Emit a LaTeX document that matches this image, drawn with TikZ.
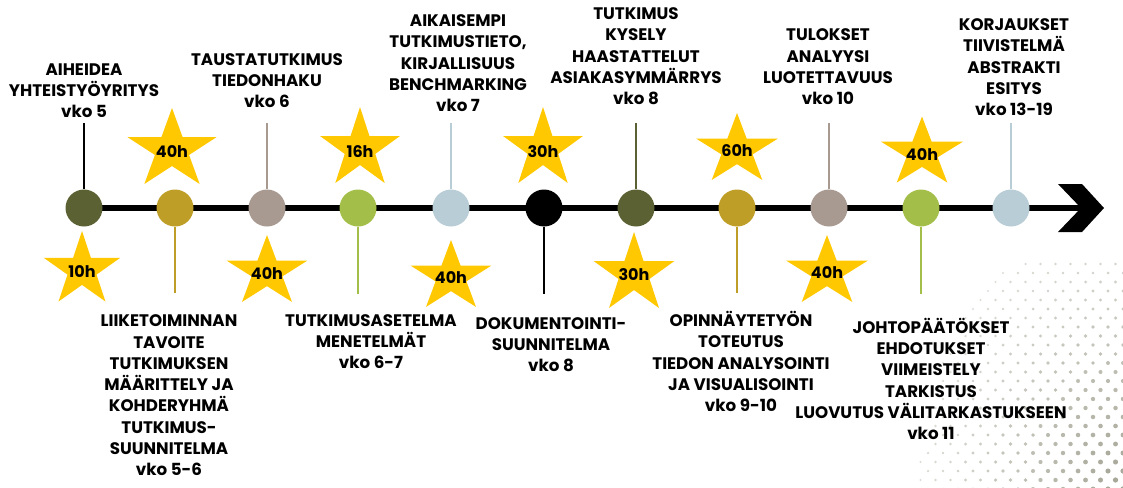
\documentclass[tikz,border=0pt]{standalone}
\usepackage{fontspec}
\setmainfont{Poppins}
\definecolor{cOlive}{RGB}{92,97,52}
\definecolor{cGold}{RGB}{190,158,38}
\definecolor{cTaupe}{RGB}{168,153,145}
\definecolor{cLime}{RGB}{164,190,74}
\definecolor{cBlue}{RGB}{184,205,214}
\definecolor{cStar}{RGB}{255,200,0}
\definecolor{cDot}{RGB}{165,165,150}
\tikzset{
  dotnode/.style={circle, minimum size=37pt, inner sep=0pt, draw=none},
  stem/.style={line width=2pt},
  lbl/.style={font=\bfseries\fontsize{16.7}{21.3}\selectfont, align=center, inner sep=0pt, text depth=0pt, anchor=south},
  hrs/.style={font=\bfseries\fontsize{16}{18}\selectfont, inner sep=0pt},
}
\newcommand{\mystar}[4]{%
  \fill[cStar, shift={(#1,#2)}, xscale=#3, yscale=#4] (-90:1)
    \foreach \k in {0,...,4}{ -- ({-54+72*\k}:0.382) -- ({-18+72*\k}:1)} -- cycle;}
\begin{document}
\begin{tikzpicture}[x=1pt, y=-1pt]
\useasboundingbox (0,0) rectangle (1123,487);
% halftone dots
\foreach \row in {0,...,25} {
  \foreach \col in {0,...,13} {
    \pgfmathsetmacro\px{1123 - 15*\col - 7.5*mod(\row,2)}
    \pgfmathsetmacro\py{489 - 9*\row}
    \pgfmathsetmacro\dd{veclen((1123-\px)/100, (487-\py)/130)*100}
    \ifdim \dd pt < 205pt
      \pgfmathsetmacro\rr{1.2 + 1.5*(1-\dd/205)}
      \pgfmathsetmacro\pp{100 - 0.3*\dd}
      \fill[cDot!\pp!white] (\px,\py) circle (\rr pt);
    \fi
  }
}
% axis
\coordinate (start) at (84,208);
\coordinate (tip) at (1081,208);
\draw[line width=6pt] (start) -- (tip);
\fill (1058,184) -- (1082,184) -- (1104,208) -- (1082,232) -- (1058,232) -- (tip) -- cycle;
% stem end points
\coordinate (t1) at (84,123);
\coordinate (t3) at (267,123);
\coordinate (t5) at (451,123);
\coordinate (t7) at (636,123);
\coordinate (t9) at (829,123);
\coordinate (t11) at (1011,123);
\coordinate (d2) at (175,293);
\coordinate (d4) at (358,294);
\coordinate (d6) at (544,294);
\coordinate (d8) at (737,293);
\coordinate (d10) at (921,294);
% circles
\node[dotnode, fill=cOlive] (n1) at (84,208) {};
\node[dotnode, fill=cGold] (n2) at (175,208) {};
\node[dotnode, fill=cTaupe] (n3) at (267,208) {};
\node[dotnode, fill=cLime] (n4) at (358,208) {};
\node[dotnode, fill=cBlue] (n5) at (451,208) {};
\node[dotnode, fill=black] (n6) at (544,208) {};
\node[dotnode, fill=cOlive] (n7) at (636,208) {};
\node[dotnode, fill=cGold] (n8) at (737,208) {};
\node[dotnode, fill=cTaupe] (n9) at (829,208) {};
\node[dotnode, fill=cLime] (n10) at (921,208) {};
\node[dotnode, fill=cBlue] (n11) at (1011,208) {};
% stems
\draw[stem, black] (n1) -- (t1);
\draw[stem, cTaupe] (n3) -- (t3);
\draw[stem, cBlue] (n5) -- (t5);
\draw[stem, cOlive] (n7) -- (t7);
\draw[stem, cTaupe] (n9) -- (t9);
\draw[stem, cBlue] (n11) -- (t11);
\draw[stem, cGold] (n2) -- (d2);
\draw[stem, cLime] (n4) -- (d4);
\draw[stem, black] (n6) -- (d6);
\draw[stem, cGold] (n8) -- (d8);
\draw[stem, cLime] (n10) -- (d10);
% stars
\mystar{82}{270}{40}{39}
\mystar{172}{150}{47}{42}
\mystar{267}{272}{42.5}{37}
\mystar{360}{149}{42}{42}
\mystar{451}{277}{42.5}{37}
\mystar{543}{149}{42}{42}
\mystar{634}{274}{42.5}{42}
\mystar{737}{150}{43}{37}
\mystar{827}{272}{43}{37}
\mystar{922}{153}{43}{36.5}
\node[hrs] (h1) at (82,272) {10h};
\node[hrs] (h2) at (172,152) {40h};
\node[hrs] (h3) at (267,274) {40h};
\node[hrs] (h4) at (360,152) {16h};
\node[hrs] (h5) at (451,278) {40h};
\node[hrs] (h6) at (543,152) {30h};
\node[hrs] (h7) at (634,275) {30h};
\node[hrs] (h8) at (737,151) {60h};
\node[hrs] (h9) at (827,273) {40h};
\node[hrs] (h10) at (922,155) {40h};
% labels
\node[lbl] (l1) at (84,118) {AIHEIDEA\\YHTEISTYÖYRITYS\\vko 5};
\node[lbl] (l3) at (267,108) {TAUSTATUTKIMUS\\TIEDONHAKU\\vko 6};
\node[lbl] (l5) at (458,112) {AIKAISEMPI\\TUTKIMUSTIETO,\\KIRJALLISUUS\\BENCHMARKING\\vko 7};
\node[lbl] (l7) at (636,105) {TUTKIMUS\\KYSELY\\HAASTATTELUT\\ASIAKASYMMÄRRYS\\vko 8};
\node[lbl] (l9) at (828,105) {TULOKSET\\ANALYYSI\\LUOTETTAVUUS\\vko 10};
\node[lbl] (l11) at (1014,116) {KORJAUKSET\\TIIVISTELMÄ\\ABSTRAKTI\\ESITYS\\vko 13-19};
\node[lbl] (b2) at (169,476) {LIIKETOIMINNAN\\TAVOITE\\TUTKIMUKSEN\\MÄÄRITTELY JA\\KOHDERYHMÄ\\TUTKIMUS-\\SUUNNITELMA\\vko 5-6};
\node[lbl] (b4) at (371,369) {TUTKIMUSASETELMA\\MENETELMÄT\\vko 6-7};
\node[lbl] (b6) at (551,372) {DOKUMENTOINTI-\\SUUNNITELMA\\vko 8};
\node[lbl] (b8) at (741,412) {OPINNÄYTETYÖN\\TOTEUTUS\\TIEDON ANALYSOINTI\\JA VISUALISOINTI\\vko 9-10};
\node[lbl] (b10) at (931,440) {JOHTOPÄÄTÖKSET\\EHDOTUKSET\\VIIMEISTELY\\TARKISTUS\\LUOVUTUS VÄLITARKASTUKSEEN\\vko 11};
\end{tikzpicture}
\end{document}
